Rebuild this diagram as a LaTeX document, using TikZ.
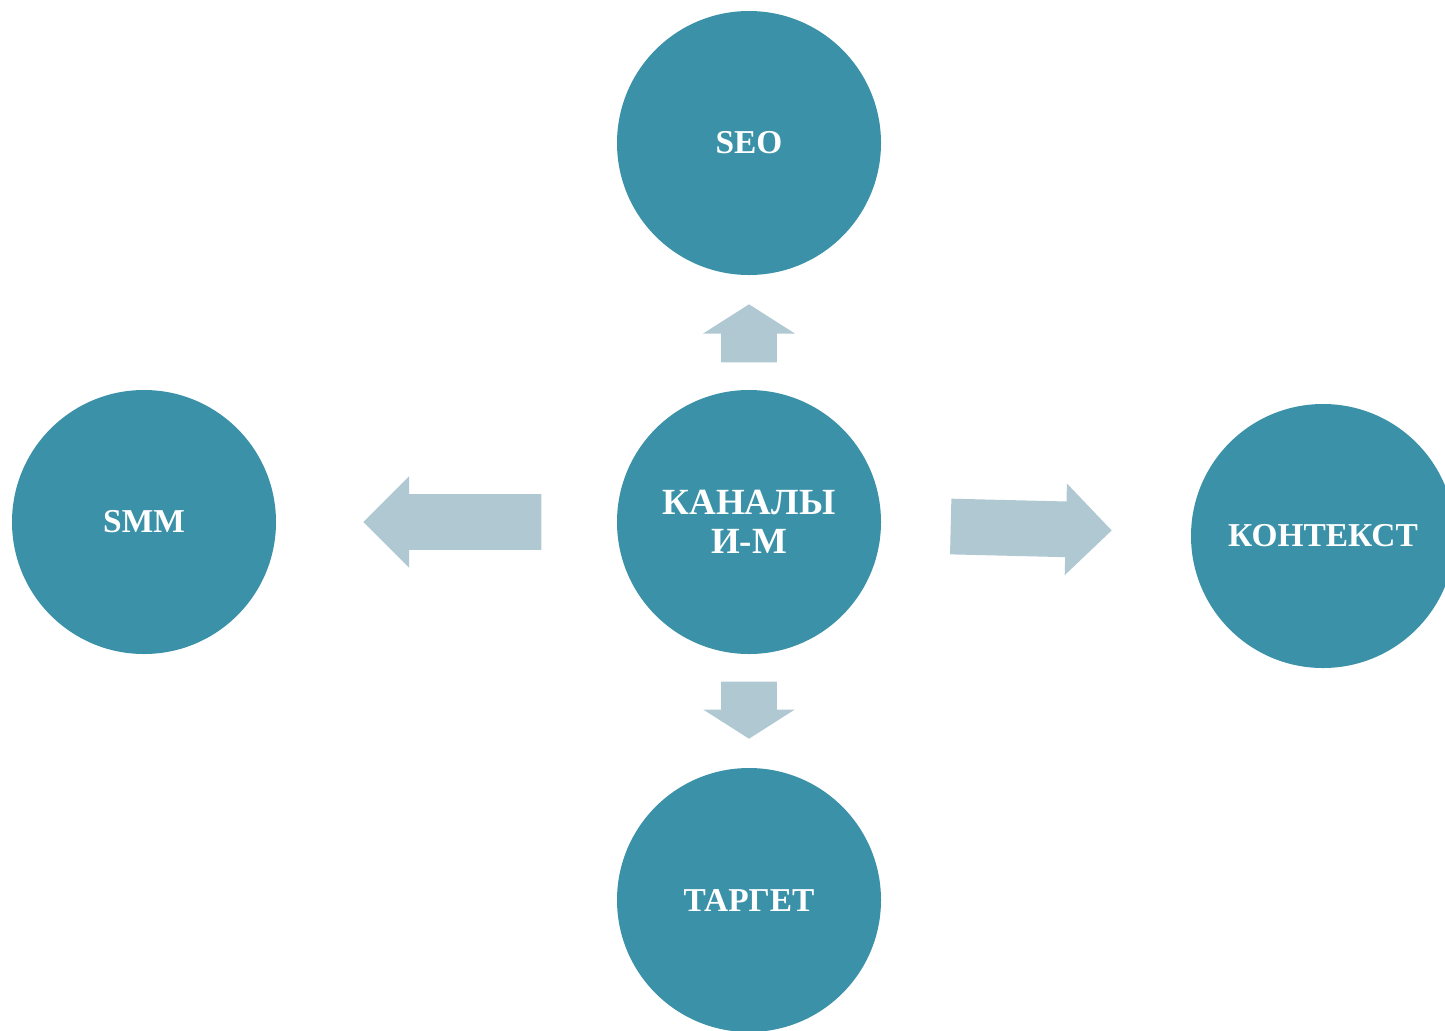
\documentclass[tikz,border=0pt]{standalone}
\usepackage{fontspec}
\setmainfont{Liberation Serif}
\usetikzlibrary{shapes.arrows, calc}
\definecolor{diskblue}{HTML}{3A91A8}
\definecolor{arrowgrey}{HTML}{AFC8D2}
\tikzset{disk/.style={circle, fill=diskblue, minimum size=5.28cm, inner sep=0pt,
		text=white, font=\fontsize{19}{22}\selectfont\bfseries, align=center},
	blockarrow/.style={single arrow, fill=arrowgrey, inner xsep=0pt, inner ysep=0.55cm,
		single arrow head extend=0.36cm, single arrow head indent=0pt,
		single arrow tip angle=#1, anchor=tail},
	blockarrow/.default=90}

\begin{document}
\begin{tikzpicture}
	\useasboundingbox (0,0) rectangle (28.9,-20.6);

	\node[disk, font=\fontsize{21}{22}\selectfont\bfseries] (im) at (14.98,-10.44) {КАНАЛЫ\\И-М};
	\node[disk, above of=im, node distance=7.58cm] (seo) {SEO};
	\node[disk, below of=im, node distance=7.56cm] (target) {ТАРГЕТ};
	\node[disk, left of=im, node distance=12.1cm] (smm) {SMM};
	\node[disk, right of=im, node distance=11.48cm, yshift=-0.28cm] (context) {КОНТЕКСТ};

	% arrows start a little way off the middle disc
	\node[blockarrow=115, minimum height=1.16cm, rotate=90] (toseo) at ($(im.north)+(0,0.54)$) {};
	\node[blockarrow=115, minimum height=1.14cm, rotate=-90] (totarget) at ($(im.south)+(0,-0.54)$) {};
	\node[blockarrow, minimum height=3.56cm, rotate=180] (tosmm) at ($(im.west)+(-1.5,0)$) {};
	\node[blockarrow, minimum height=3.22cm, rotate=-1.4] (tocontext) at ($(im.east)+(1.38,-0.09)$) {};
\end{tikzpicture}
\end{document}
